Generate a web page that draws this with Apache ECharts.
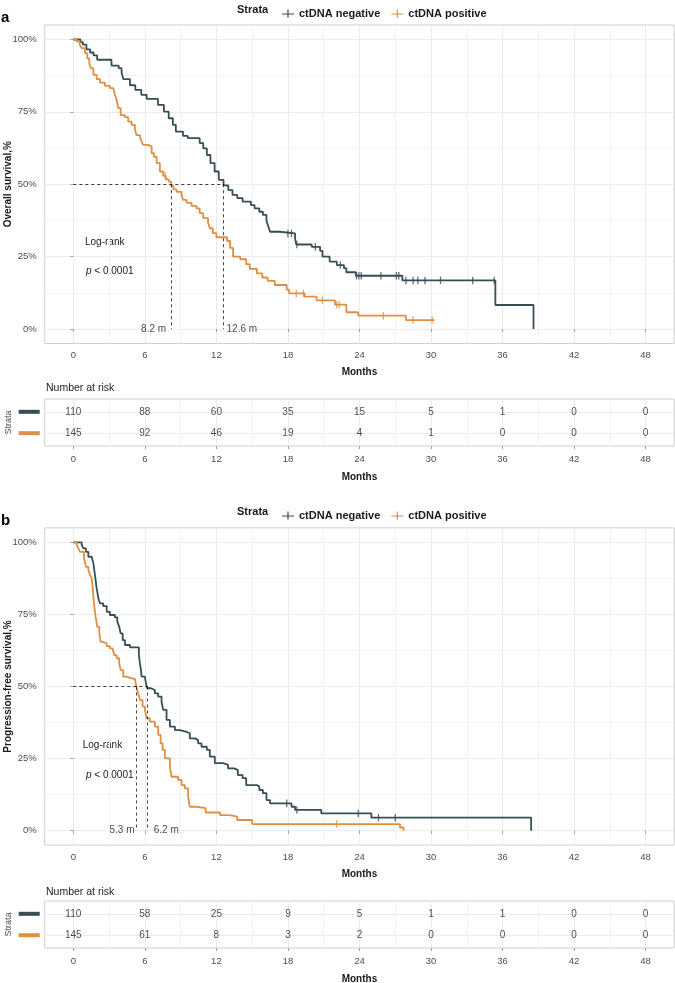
<!DOCTYPE html>
<html><head><meta charset="utf-8">
<script src="https://cdn.jsdelivr.net/npm/echarts@6/dist/echarts.min.js"></script>
<style>html,body{margin:0;padding:0;background:#fff}#c{width:675px;height:983px}</style>
</head><body><div id="c"></div>
<script>
// ---------------- DATA ----------------
const strata = ['ctDNA negative', 'ctDNA positive'];
const months = [0, 6, 12, 18, 24, 30, 36, 42, 48];
const yTicks = [0, 25, 50, 75, 100];

// Panel a: overall survival (step change points [month, survival %])
const osNeg = [[0,100],[0.6,99.1],[0.8,98.2],[1.1,96.6],[1.4,95.5],[1.7,94.5],[2.0,93.0],[3.2,91.0],[3.8,90.1],[4.05,88.5],[4.2,86.3],[4.75,84.2],[5.2,82.6],[5.7,80.9],[6.15,79.5],[7.1,77.4],[7.6,75.1],[8.0,72.8],[8.35,70.5],[8.6,68.2],[9.2,66.7],[9.6,65.9],[10.6,64.2],[10.9,62.4],[11.2,60.1],[11.5,57.3],[11.85,54.4],[12.2,51.5],[12.6,49.6],[13.0,48.0],[13.35,46.3],[13.75,45.2],[14.2,44.0],[14.9,42.8],[15.2,41.7],[15.6,40.5],[15.9,39.4],[16.2,37.4],[16.35,35.5],[16.5,33.6],[17.3,33.0],[18.6,31.3],[18.7,29.2],[20.0,28.4],[20.7,27.0],[20.9,25.0],[21.5,23.3],[22.1,22.1],[22.7,21.0],[22.9,19.6],[23.7,18.4],[27.6,16.8],[35.4,8.3],[38.6,0]];
const osPos = [[0,100],[0.3,99.3],[0.55,98.1],[0.7,97.0],[0.98,95.3],[1.17,93.5],[1.34,91.8],[1.46,90.1],[1.68,87.8],[1.96,86.3],[2.24,85.1],[2.65,84.0],[3.07,83.2],[3.35,82.6],[3.49,80.9],[3.63,79.1],[3.77,76.3],[3.97,73.9],[4.33,73.2],[4.6,71.6],[4.89,70.5],[5.17,68.8],[5.3,67.0],[5.59,66.2],[5.73,64.7],[5.86,63.6],[6.28,63.0],[6.57,60.7],[6.76,59.5],[6.98,57.3],[7.26,54.4],[7.54,52.9],[7.76,51.7],[8.0,50.9],[8.2,49.4],[8.4,48.2],[8.66,47.4],[9.08,46.3],[9.21,44.6],[9.5,43.6],[9.92,42.5],[10.33,41.7],[10.6,40.0],[10.9,38.3],[11.3,36.7],[11.45,34.8],[11.7,33.1],[12.0,31.7],[12.9,30.4],[13.15,28.0],[13.4,25.0],[14.0,24.1],[14.5,22.4],[14.8,20.8],[15.4,19.2],[15.85,17.8],[16.3,16.6],[16.9,15.2],[17.9,13.6],[18.1,12.3],[19.4,11.2],[20.4,9.9],[21.95,8.4],[22.9,5.8],[23.9,4.6],[27.9,3.1],[30.3,3.1]];
const osNegCensor = [18.0,18.3,18.75,20.3,22.4,23.75,23.95,24.15,25.8,27.1,27.3,27.9,28.5,28.9,29.5,30.8,33.5,35.3];
const osPosCensor = [7.7,18.7,19.3,20.9,22.1,22.3,26.0,28.5,30.1];
const osMedian = [12.6, 8.2];            // negative, positive
const osRiskNeg = [110, 88, 60, 35, 15, 5, 1, 0, 0];
const osRiskPos = [145, 92, 46, 19, 4, 1, 0, 0, 0];

// Panel b: progression-free survival
const pfsNeg = [[0,100],[0.7,99.1],[0.84,97.9],[1.06,96.7],[1.26,95.0],[1.54,94.4],[1.68,92.7],[1.76,90.4],[1.87,86.9],[1.96,84.0],[2.1,80.6],[2.24,78.8],[2.51,77.9],[2.8,75.9],[3.07,74.8],[3.49,74.0],[3.69,72.5],[3.85,70.7],[3.97,68.4],[4.14,66.1],[4.33,64.4],[4.75,63.6],[5.5,60.9],[5.59,58.0],[5.67,55.7],[5.73,53.4],[6.0,52.8],[6.1,51.0],[6.2,49.4],[6.5,48.8],[6.84,47.6],[7.12,46.5],[7.4,44.7],[7.54,41.9],[7.82,38.4],[8.1,36.1],[8.52,34.9],[8.94,34.3],[9.5,33.8],[9.77,32.0],[10.2,31.4],[10.47,30.3],[10.75,29.1],[11.2,28.0],[11.45,25.7],[11.87,23.4],[12.56,22.8],[12.98,21.6],[13.5,21.0],[13.8,19.3],[14.2,18.2],[14.5,15.8],[15.4,15.3],[15.6,14.1],[15.9,13.0],[16.2,10.6],[16.5,9.5],[18.3,8.3],[18.6,7.2],[20.8,6.0],[25.0,4.5],[38.4,0]];
const pfsPos = [[0,100],[0.28,99.1],[0.42,97.9],[0.56,96.7],[0.9,94.4],[1.06,91.5],[1.26,90.4],[1.4,88.7],[1.54,87.5],[1.62,84.6],[1.68,81.1],[1.76,77.7],[1.87,74.2],[2.01,70.7],[2.18,68.4],[2.29,65.5],[2.46,65.0],[2.8,64.0],[3.07,63.2],[3.3,62.7],[3.43,60.9],[3.63,59.8],[3.85,58.0],[3.97,55.7],[4.19,53.4],[4.47,52.8],[4.89,52.6],[5.17,52.0],[5.3,49.5],[5.45,47.6],[5.59,45.3],[5.81,43.0],[6.0,41.9],[6.15,39.0],[6.42,37.8],[6.84,36.1],[7.12,33.2],[7.32,30.3],[7.49,28.0],[7.68,25.1],[8.1,22.2],[8.24,18.7],[8.79,17.6],[9.08,15.8],[9.35,14.7],[9.63,11.8],[9.77,8.3],[10.33,7.8],[11.1,6.3],[12.3,5.4],[13.1,4.9],[13.75,3.7],[15.0,2.3],[27.4,1.1],[27.7,0]];
const pfsNegCensor = [17.9,18.75,23.9,25.6,27.0];
const pfsPosCensor = [22.1];
const pfsMedian = [6.2, 5.3];
const pfsRiskNeg = [110, 58, 25, 9, 5, 1, 1, 0, 0];
const pfsRiskPos = [145, 61, 8, 3, 2, 0, 0, 0, 0];

// ---------------- STYLE / LAYOUT ----------------
const FONT = '"Liberation Sans", Arial, Helvetica, sans-serif';
const NEG = '#374E55', POS = '#DF8F44';
const GRID_COL = '#ebebeb', MINOR_COL = '#f3f3f3', BORDER = '#cfcfcf', TICK = '#a0a0a0', LAB = '#4d4d4d', INK = '#1a1a1a';
const GL = 44.7, GW = 629.5;
const XMIN = -2.4, XMAX = 50.4;

const panels = [
  { tag: 'a', yName: 'Overall survival,%', neg: osNeg, pos: osPos, negC: osNegCensor, posC: osPosCensor,
    med: osMedian, riskNeg: osRiskNeg, riskPos: osRiskPos,
    km: { top: 25, height: 318.5 }, tab: { top: 399, height: 47 },
    tagBase: 10.5, legendTop: 3, stratY: 9.5, narY: 388.5, logrank: [85, 242.7], pval: [86, 271.7], labDist: [4.5, 2.5] },
  { tag: 'b', yName: 'Progression-free survival,%', neg: pfsNeg, pos: pfsPos, negC: pfsNegCensor, posC: pfsPosCensor,
    med: pfsMedian, riskNeg: pfsRiskNeg, riskPos: pfsRiskPos,
    km: { top: 527.9, height: 317.2 }, tab: { top: 901, height: 47 },
    tagBase: 513.5, legendTop: 505, stratY: 512, narY: 892.5, logrank: [82.7, 745], pval: [86, 775], labDist: [1.5, 6] }
];

function levelAt(curve, t) {
  let s = curve[0][1];
  for (const [x, y] of curve) { if (x <= t) s = y; else break; }
  return s;
}
const minorX = months.slice(0, -1).map(m => m + 3);
const minorY = yTicks.slice(0, -1).map(v => v + 12.5);

const grid = [], xAxis = [], yAxis = [], series = [], legend = [], graphic = [];
const plusIcon = 'path://M0,4.4L12,4.4L12,5.6L0,5.6Z M5.4,0.5L6.6,0.5L6.6,8.5L5.4,8.5Z';

function xAxes(gi, labelMargin, nameGap) {
  xAxis.push({
    type: 'value', gridIndex: gi, min: XMIN, max: XMAX, position: 'bottom',
    axisLine: { show: false },
    axisTick: { show: true, length: 3, lineStyle: { color: TICK, width: 1 }, customValues: months },
    axisLabel: { customValues: months, margin: labelMargin, fontSize: 9.5, color: LAB, fontFamily: FONT },
    splitLine: { show: true, lineStyle: { color: GRID_COL, width: 1 } },
    name: 'Months', nameLocation: 'middle', nameGap: nameGap, nameMoveOverlap: false,
    nameTextStyle: { fontWeight: 'bold', fontSize: 10, color: INK, fontFamily: FONT }
  });
  const major = xAxis.length - 1;
  xAxis.push({
    type: 'value', gridIndex: gi, min: XMIN, max: XMAX, position: 'top',
    axisLine: { show: false }, axisLabel: { show: false },
    axisTick: { show: false, customValues: minorX },
    splitLine: { show: true, lineStyle: { color: MINOR_COL, width: 1 } }
  });
  return major;
}

panels.forEach((p) => {
  // KM grid
  const gKM = grid.length;
  grid.push({ left: GL, width: GW, top: p.km.top, height: p.km.height, show: true, borderColor: BORDER, borderWidth: 1, backgroundColor: 'transparent', containLabel: false, outerBoundsMode: 'none' });
  const xi = xAxes(gKM, 7, 24);
  yAxis.push({
    type: 'value', gridIndex: gKM, min: -5, max: 105, position: 'left',
    axisLine: { show: false },
    axisTick: { show: true, length: 3, lineStyle: { color: TICK }, customValues: yTicks },
    axisLabel: { customValues: yTicks, formatter: v => v + '%', margin: 8, fontSize: 9.5, color: LAB, fontFamily: FONT },
    splitLine: { show: true, lineStyle: { color: GRID_COL, width: 1 } },
    name: p.yName, nameLocation: 'middle', nameGap: 31, nameRotate: 90, nameMoveOverlap: false,
    nameTextStyle: { fontWeight: 'bold', fontSize: 10, color: INK, fontFamily: FONT }
  });
  const yi = yAxis.length - 1;
  yAxis.push({
    type: 'value', gridIndex: gKM, min: -5, max: 105, position: 'right',
    axisLine: { show: false }, axisLabel: { show: false },
    axisTick: { show: false, customValues: minorY },
    splitLine: { show: true, lineStyle: { color: MINOR_COL, width: 1 } }
  });

  const medNeg = p.med[0], medPos = p.med[1];
  series.push({
    type: 'line', name: strata[0], xAxisIndex: xi, yAxisIndex: yi, data: p.neg, step: 'end',
    symbol: 'none', showSymbol: false, lineStyle: { width: 1.8, color: NEG }, itemStyle: { color: NEG },
    animation: false, silent: true, z: 3,
    markLine: {
      silent: true, symbol: 'none', animation: false,
      label: { show: false },
      lineStyle: { type: [3, 3], color: '#111', width: 0.8 },
      data: [
        [{ coord: [0, 50] }, { coord: [Math.max(medNeg, medPos), 50] }],
        [{ coord: [medNeg, 50] }, { coord: [medNeg, 0] }],
        [{ coord: [medPos, 50] }, { coord: [medPos, 0] }]
      ]
    }
  });
  series.push({
    type: 'line', name: strata[1], xAxisIndex: xi, yAxisIndex: yi, data: p.pos, step: 'end',
    symbol: 'none', showSymbol: false, lineStyle: { width: 1.8, color: POS }, itemStyle: { color: POS },
    animation: false, silent: true, z: 3
  });
  series.push({
    type: 'scatter', name: 'censor-neg', xAxisIndex: xi, yAxisIndex: yi,
    data: p.negC.map(t => [t, levelAt(p.neg, t)]), symbol: 'rect', symbolSize: [1.3, 7.5],
    itemStyle: { color: NEG }, animation: false, silent: true, z: 4
  });
  series.push({
    type: 'scatter', name: 'censor-pos', xAxisIndex: xi, yAxisIndex: yi,
    data: p.posC.map(t => [t, levelAt(p.pos, t)]), symbol: 'rect', symbolSize: [1.3, 7.5],
    itemStyle: { color: POS }, animation: false, silent: true, z: 4
  });
  // median labels
  const lo = Math.min(medNeg, medPos), hi = Math.max(medNeg, medPos);
  series.push({
    type: 'scatter', name: 'median-labels', xAxisIndex: xi, yAxisIndex: yi, symbolSize: 1,
    itemStyle: { color: 'rgba(0,0,0,0)' }, animation: false, silent: true, z: 5,
    label: { show: true, formatter: d => d.value[0] + ' m', fontSize: 10, color: INK, fontFamily: FONT },
    data: [
      { value: [lo, 0], label: { position: 'left', distance: p.labDist[0] } },
      { value: [hi, 0], label: { position: 'right', distance: p.labDist[1] } }
    ]
  });

  // risk table grid
  const gT = grid.length;
  grid.push({ left: GL, width: GW, top: p.tab.top, height: p.tab.height, show: true, borderColor: BORDER, borderWidth: 1, backgroundColor: 'transparent', containLabel: false, outerBoundsMode: 'none' });
  const txi = xAxes(gT, 8, 26.5);
  yAxis.push({
    type: 'value', gridIndex: gT, min: 0.4, max: 2.6, position: 'left',
    axisLine: { show: false }, axisTick: { show: false, customValues: [1, 2] },
    axisLabel: {
      customValues: [1, 2], margin: 5,
      formatter: v => (v === 2 ? '{neg|}' : '{pos|}'),
      rich: {
        neg: { backgroundColor: NEG, width: 21, height: 4, lineHeight: 4, fontSize: 1 },
        pos: { backgroundColor: POS, width: 21, height: 4, lineHeight: 4, fontSize: 1 }
      }
    },
    splitLine: { show: true, lineStyle: { color: GRID_COL, width: 1 } },
    name: 'Strata', nameLocation: 'middle', nameGap: 32, nameRotate: 90, nameMoveOverlap: false,
    nameTextStyle: { fontSize: 9, color: LAB, fontFamily: FONT }
  });
  const tyi = yAxis.length - 1;
  const tableLabel = { show: true, position: 'inside', formatter: d => String(d.value[2]), fontSize: 10, color: '#222', fontFamily: FONT };
  series.push({
    type: 'scatter', name: 'risk-neg', xAxisIndex: txi, yAxisIndex: tyi, symbolSize: 1,
    itemStyle: { color: 'rgba(0,0,0,0)' }, label: tableLabel, animation: false, silent: true,
    data: months.map((m, i) => [m, 2, p.riskNeg[i]])
  });
  series.push({
    type: 'scatter', name: 'risk-pos', xAxisIndex: txi, yAxisIndex: tyi, symbolSize: 1,
    itemStyle: { color: 'rgba(0,0,0,0)' }, label: tableLabel, animation: false, silent: true,
    data: months.map((m, i) => [m, 1, p.riskPos[i]])
  });

  // legend
  legend.push({
    left: 277, top: p.legendTop, itemWidth: 12, itemHeight: 9, itemGap: 11, selectedMode: false,
    textStyle: { fontWeight: 'bold', fontSize: 11, color: INK, fontFamily: FONT },
    data: [{ name: strata[0], icon: plusIcon }, { name: strata[1], icon: plusIcon }]
  });

  // texts
  graphic.push({ type: 'text', x: 1, y: p.tagBase, style: { text: p.tag, font: 'bold 15px ' + FONT, fill: '#000', verticalAlign: 'alphabetic' } });
  graphic.push({ type: 'text', x: 237, y: p.stratY, style: { text: 'Strata', font: 'bold 11px ' + FONT, fill: INK, verticalAlign: 'middle' } });
  graphic.push({ type: 'text', x: 46, y: p.narY, style: { text: 'Number at risk', font: '10.5px ' + FONT, fill: INK, verticalAlign: 'middle' } });
  graphic.push({ type: 'text', x: p.logrank[0], y: p.logrank[1], style: { text: 'Log-rank', font: '10px ' + FONT, fill: INK, verticalAlign: 'middle' } });
  graphic.push({ type: 'text', x: p.pval[0], y: p.pval[1], style: {
    text: '{i|p} < 0.0001', font: '10px ' + FONT, fill: INK, verticalAlign: 'middle',
    rich: { i: { fontStyle: 'italic', fontSize: 10, fontFamily: FONT, fill: INK } } } });
});

const chart = echarts.init(document.getElementById('c'), null, { renderer: 'canvas' });
chart.setOption({
  animation: false,
  backgroundColor: '#ffffff',
  textStyle: { fontFamily: FONT },
  grid, xAxis, yAxis, series, legend, graphic
});
</script></body></html>
